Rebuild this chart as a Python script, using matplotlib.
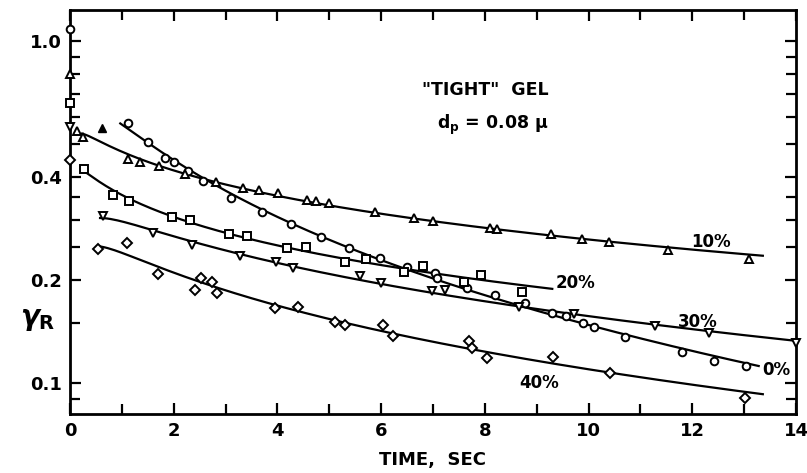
import numpy as np
import matplotlib
matplotlib.use("Agg")
import matplotlib.pyplot as plt
from matplotlib.ticker import FixedLocator, FixedFormatter, NullFormatter

# ---- data (time in sec, gamma_R) ----
t_0pct = [1.12, 1.51, 1.83, 2.01, 2.28, 2.57, 3.10, 3.71, 4.27, 4.85, 5.39, 5.97,
          6.50, 7.03, 7.07, 7.65, 8.19, 8.77, 9.30, 9.57, 9.90, 10.10, 10.71, 11.81,
          12.41, 13.03]
v_0pct = [0.576, 0.506, 0.455, 0.442, 0.416, 0.390, 0.348, 0.316, 0.292, 0.267, 0.248,
          0.232, 0.218, 0.210, 0.203, 0.190, 0.181, 0.171, 0.160, 0.157, 0.150, 0.146,
          0.136, 0.123, 0.116, 0.112]

t_10pct = [0.13, 0.25, 1.12, 1.35, 1.72, 2.22, 2.82, 3.34, 3.65, 4.02, 4.57, 4.75, 4.99,
           5.89, 6.63, 7.00, 8.09, 8.24, 9.27, 9.88, 10.39, 11.53, 13.10]
v_10pct = [0.545, 0.524, 0.452, 0.442, 0.431, 0.408, 0.387, 0.372, 0.366, 0.359, 0.343,
           0.340, 0.336, 0.316, 0.304, 0.297, 0.284, 0.282, 0.273, 0.264, 0.258, 0.245,
           0.230]

t_20pct = [0.28, 0.83, 1.14, 1.97, 2.32, 3.07, 3.42, 4.19, 4.56, 5.31, 5.70, 6.45, 6.80,
           7.59, 7.92, 8.71]
v_20pct = [0.422, 0.355, 0.341, 0.306, 0.299, 0.273, 0.269, 0.248, 0.250, 0.226, 0.230,
           0.211, 0.220, 0.197, 0.207, 0.185]

t_30pct = [0.64, 1.60, 2.35, 3.28, 3.98, 4.31, 5.60, 6.00, 6.99, 7.24, 8.65, 9.71,
           11.29, 12.32, 14.00]
v_30pct = [0.308, 0.275, 0.253, 0.235, 0.226, 0.217, 0.206, 0.196, 0.186, 0.187, 0.167,
           0.159, 0.147, 0.140, 0.131]

t_40pct = [0.54, 1.10, 1.70, 2.41, 2.53, 2.74, 2.83, 3.96, 4.40, 5.12, 5.31, 6.04, 6.22,
           7.70, 7.76, 8.05, 9.32, 10.41, 13.01]
v_40pct = [0.247, 0.257, 0.208, 0.187, 0.203, 0.197, 0.183, 0.166, 0.167, 0.151, 0.148,
           0.148, 0.137, 0.133, 0.127, 0.118, 0.119, 0.107, 0.0904]

# starting values plotted on the axis (t = 0)
init_vals = {"0%": 1.08, "10%": 0.80, "20%": 0.66, "30%": 0.56, "40%": 0.45}
# stray 10% point off the curve
t_10_stray, v_10_stray = [0.62], [0.558]

series = {
    "0%": (t_0pct, v_0pct, "o", (0.97, 13.28)),
    "10%": (t_10pct, v_10pct, "^", (0.23, 13.36)),
    "20%": (t_20pct, v_20pct, "s", (0.29, 9.30)),
    "30%": (t_30pct, v_30pct, "v", (0.58, 14.0)),
    "40%": (t_40pct, v_40pct, "D", (0.54, 13.36)),
}

label_pos = {"0%": (13.62, 0.109), "10%": (12.36, 0.258), "20%": (9.75, 0.196),
             "30%": (12.1, 0.151), "40%": (9.05, 0.100)}

plt.rcParams["font.family"] = ["DejaVu Sans"]
plt.rcParams["font.weight"] = "bold"

fig = plt.figure(figsize=(8.07, 4.73), dpi=100)
ax = fig.add_axes([0.0867, 0.1247, 0.8997, 0.8542])

for name, (t, v, mk, span) in series.items():
    t = np.asarray(t)
    v = np.asarray(v)
    # smooth fit through the points (log-log quadratic)
    coef = np.polyfit(np.log10(t), np.log10(v), 2)
    tt = np.linspace(span[0], span[1], 200)
    ax.plot(tt, 10 ** np.polyval(coef, np.log10(tt)), color="black", lw=1.6, zorder=2)
    ms = 4.6 if mk == "D" else 5.5
    ax.plot(t, v, ls="none", marker=mk, ms=ms, mfc="white", mec="black", mew=1.4,
            zorder=3, clip_on=False)
    ax.plot([0], [init_vals[name]], ls="none", marker=mk, ms=ms, mfc="white",
            mec="black", mew=1.4, zorder=3, clip_on=False)
    ax.text(*label_pos[name], name, fontsize=12, fontweight="bold",
            ha="center", va="center", zorder=4)

ax.plot(t_10_stray, v_10_stray, ls="none", marker="^", ms=5.5, mfc="black", mec="black",
        zorder=3)

ax.set_yscale("log")
ax.set_xlim(0, 14)
ax.set_ylim(0.0812, 1.231)

ax.xaxis.set_major_locator(FixedLocator([0, 2, 4, 6, 8, 10, 12, 14]))
ax.xaxis.set_minor_locator(FixedLocator([1, 3, 5, 7, 9, 11, 13]))
ax.yaxis.set_major_locator(FixedLocator([0.1, 0.2, 0.4, 1.0]))
ax.yaxis.set_major_formatter(FixedFormatter(["0.1", "0.2", "0.4", "1.0"]))
ax.yaxis.set_minor_locator(FixedLocator([0.09, 0.15, 0.25, 0.3, 0.35, 0.5, 0.6, 0.7,
                                         0.8, 0.9]))
ax.yaxis.set_minor_formatter(NullFormatter())

ax.tick_params(which="both", direction="in", top=True, right=True, width=1.6,
               labelsize=13, pad=6)
ax.tick_params(which="major", length=8)
ax.tick_params(which="minor", length=7)
for lab in ax.get_xticklabels() + ax.get_yticklabels():
    lab.set_fontweight("bold")
for sp in ax.spines.values():
    sp.set_linewidth(2)

ax.set_xlabel("TIME,  SEC", fontsize=13, fontweight="bold", labelpad=8)
ax.text(-0.045, 0.235, r"$\gamma_{\mathregular{R}}$", transform=ax.transAxes,
        fontsize=20, ha="center", va="center")

ax.text(8.0, 0.72, '"TIGHT"  GEL', fontsize=12.5, fontweight="bold",
        ha="center", va="center")
ax.text(8.15, 0.57, r"d$_\mathregular{p}$ = 0.08 $\mathregular{\mu}$", fontsize=12.5,
        fontweight="bold", ha="center", va="center")

fig.savefig("out.png", dpi=100)
